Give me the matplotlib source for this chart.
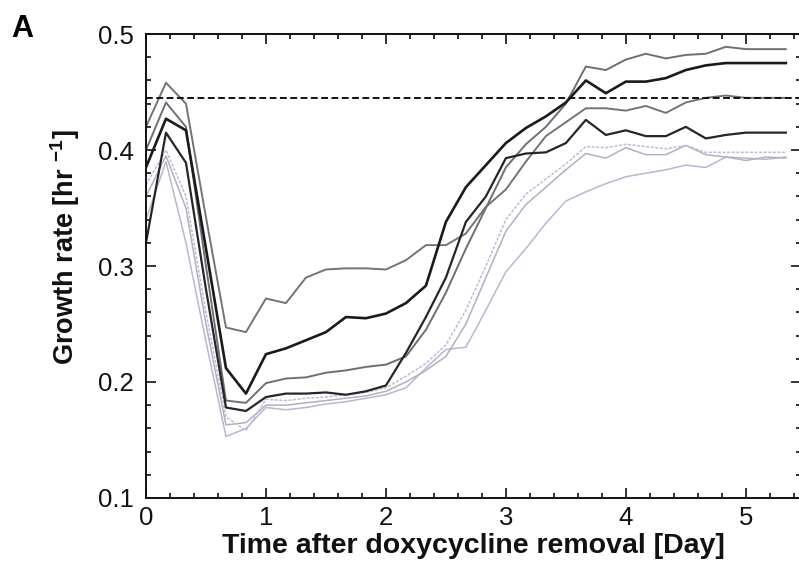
import numpy as np
import matplotlib
matplotlib.use("Agg")
import matplotlib.pyplot as plt
from matplotlib.ticker import MultipleLocator, FormatStrFormatter

plt.rcParams['font.family'] = ['Liberation Sans', 'DejaVu Sans']
plt.rcParams['mathtext.default'] = 'regular'

# time grid: one sample every 4 hours
days = np.arange(33) / 6.0

# growth rate traces [1/hr]
gray_a = [0.42, 0.458, 0.44, 0.342, 0.247, 0.243, 0.272, 0.268, 0.29, 0.297, 0.298,
          0.298, 0.297, 0.305, 0.318, 0.318, 0.328, 0.351, 0.366, 0.39, 0.412, 0.424,
          0.436, 0.436, 0.434, 0.438, 0.432, 0.441, 0.445, 0.447, 0.445, 0.445, 0.445]
gray_c = [0.40, 0.441, 0.42, 0.30, 0.184, 0.182, 0.199, 0.203, 0.204, 0.208, 0.21,
          0.213, 0.215, 0.222, 0.245, 0.277, 0.315, 0.35, 0.385, 0.405, 0.42, 0.44,
          0.472, 0.469, 0.478, 0.483, 0.479, 0.482, 0.483, 0.489, 0.487, 0.487, 0.487]
black_b = [0.385, 0.427, 0.417, 0.315, 0.212, 0.19, 0.224, 0.229, 0.236, 0.243, 0.256,
           0.255, 0.259, 0.268, 0.283, 0.338, 0.368, 0.387, 0.406, 0.419, 0.429, 0.441,
           0.46, 0.449, 0.459, 0.459, 0.462, 0.469, 0.473, 0.475, 0.475, 0.475, 0.475]
black_d = [0.32, 0.415, 0.389, 0.28, 0.178, 0.175, 0.187, 0.19, 0.19, 0.191, 0.189,
           0.192, 0.197, 0.225, 0.256, 0.29, 0.338, 0.36, 0.393, 0.397, 0.398, 0.406,
           0.426, 0.413, 0.417, 0.412, 0.412, 0.42, 0.41, 0.413, 0.415, 0.415, 0.415]
light_e = [0.37, 0.40, 0.36, 0.26, 0.17, 0.158, 0.185, 0.184, 0.186, 0.187, 0.189,
           0.191, 0.195, 0.205, 0.216, 0.232, 0.262, 0.30, 0.34, 0.362, 0.375, 0.388,
           0.403, 0.402, 0.405, 0.403, 0.401, 0.404, 0.398, 0.398, 0.398, 0.398, 0.398]
light_f = [0.36, 0.395, 0.35, 0.25, 0.163, 0.165, 0.18, 0.18, 0.182, 0.184, 0.186,
           0.188, 0.192, 0.20, 0.21, 0.222, 0.25, 0.29, 0.33, 0.353, 0.368, 0.383,
           0.397, 0.393, 0.402, 0.396, 0.396, 0.404, 0.396, 0.394, 0.391, 0.394, 0.393]
light_g = [0.34, 0.39, 0.32, 0.235, 0.153, 0.16, 0.178, 0.176, 0.178, 0.181, 0.183,
           0.186, 0.189, 0.195, 0.212, 0.228, 0.23, 0.262, 0.295, 0.315, 0.337, 0.356,
           0.364, 0.371, 0.377, 0.38, 0.383, 0.387, 0.385, 0.394, 0.393, 0.392, 0.394]

target_rate = 0.445

fig = plt.figure(figsize=(7.99, 5.63), dpi=100)
ax = fig.add_axes([0.1827, 0.1155, 0.8198, 0.824])

# light traces first, dark on top
ax.plot(days, light_g, color='#bcb4d2', lw=1.1)
ax.plot(days, light_f, color='#b2b0bc', lw=1.1)
ax.plot(days, light_e, color='#c2b9da', lw=1.1, ls=(0, (2, 1)))
ax.plot(days, gray_a, color='#747474', lw=1.4)
ax.plot(days, gray_c, color='#6e6e7a', lw=1.4)
ax.plot(days, black_d, color='#262626', lw=1.6)
ax.plot(days, black_b, color='#1a1a1a', lw=1.9)
ax.axhline(target_rate, color='#111111', lw=1.4, ls=(0, (3.5, 1.8)))

ax.set_xlim(0, 5.46)
ax.set_ylim(0.1, 0.5)
ax.xaxis.set_major_locator(MultipleLocator(1))
ax.xaxis.set_minor_locator(MultipleLocator(0.2))
ax.yaxis.set_major_locator(MultipleLocator(0.1))
ax.yaxis.set_minor_locator(MultipleLocator(0.02))
ax.yaxis.set_major_formatter(FormatStrFormatter('%.1f'))

ax.tick_params(which='both', direction='in', top=True, right=True, width=1.2,
               labelsize=18.5, colors='#111111')
ax.tick_params(axis='y', which='major', length=7, pad=9)
ax.tick_params(axis='x', which='major', length=7, pad=6)
ax.tick_params(which='minor', length=3.5)
for s in ax.spines.values():
    s.set_linewidth(1.4)
    s.set_color('#111111')

ax.set_xlabel('Time after doxycycline removal [Day]', fontsize=20.5,
              fontweight='bold', color='#111111')
ax.xaxis.set_label_coords(0.5, -0.076)
ax.set_ylabel('Growth rate [hr $^{-1}$]', fontsize=19.5, fontweight='bold',
              color='#111111')
ax.yaxis.set_label_coords(-0.097, 0.54)

fig.text(0.014, 0.975, 'A', fontsize=22, fontweight='bold', va='top', ha='left')

fig.savefig('out.png', dpi=100)
